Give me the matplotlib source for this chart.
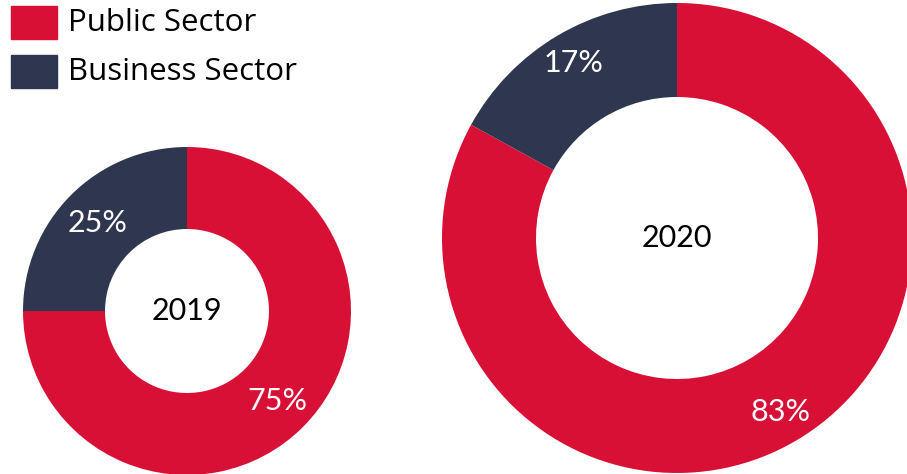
import matplotlib
matplotlib.use("Agg")
import matplotlib.pyplot as plt
from matplotlib.patches import Rectangle

plt.rcParams["font.family"] = ["Lato", "DejaVu Sans"]

sectors = ["Public Sector", "Business Sector"]
years = ["2019", "2020"]
share_2019 = [75, 25]
share_2020 = [83, 17]
colors = ["#D81036", "#2F3750"]

W, H = 907, 474
fig = plt.figure(figsize=(W / 100, H / 100), dpi=100)
ax = fig.add_axes([0, 0, 1, 1])
ax.set_xlim(0, W)
ax.set_ylim(0, H)
ax.set_aspect("equal")
ax.axis("off")

def donut(vals, year, cx, cy, r, r_in, lab_pos):
    ax.pie(vals, colors=colors, startangle=90, counterclock=False,
           center=(cx, H - cy), radius=r,
           wedgeprops=dict(width=r - r_in, linewidth=0))
    ax.text(cx, H - cy, year, ha="center", va="center", fontsize=22, color="black")
    for v, (lx, ly) in zip(vals, lab_pos):
        ax.text(lx, H - ly, f"{v}%", ha="center", va="center", fontsize=22, color="white")

donut(share_2019, years[0], 187, 311, 164, 82, [(277, 401), (98, 223)])
donut(share_2020, years[1], 677, 238, 235, 141, [(780, 412), (573, 63)])
ax.set_xlim(0, W)
ax.set_ylim(0, H)

# legend
for i, (name, c) in enumerate(zip(sectors, colors)):
    y0 = 6 + i * 49
    ax.add_patch(Rectangle((11, H - y0 - 33), 46, 33, color=c, clip_on=False))
    ax.text(68, H - y0 - 17, name, ha="left", va="center", fontsize=22.5,
            color="black", family=["Open Sans", "DejaVu Sans"])

fig.savefig("out.png", dpi=100)
